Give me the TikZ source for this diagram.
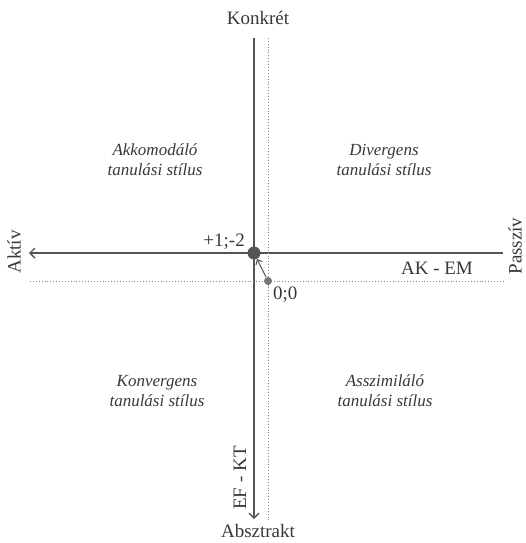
\documentclass[tikz,border=0pt]{standalone}
\usepackage{fontspec}
\setmainfont{Liberation Serif}
\usetikzlibrary{arrows.meta}
\definecolor{axisgray}{gray}{0.33}
\definecolor{textgray}{gray}{0.22}
\tikzstyle{axis} = [draw=axisgray, line width=1.1pt]
\tikzstyle{guide} = [draw=axisgray!70, line width=0.9pt, dotted]
\tikzstyle{arrow} = [-{Straight Barb[length=5pt,width=10pt,line width=1.3pt]}]
\tikzstyle{pole} = [text=textgray, font=\fontsize{19}{21}\selectfont, inner sep=0pt]
\tikzstyle{quad} = [text=textgray, font=\fontsize{17}{20}\selectfont\itshape, align=center, inner sep=0pt]
\tikzstyle{dot} = [circle, fill=axisgray, inner sep=0pt]

\begin{document}
\begin{tikzpicture}[x=1pt, y=-1pt]
\useasboundingbox (0,0) rectangle (526,543);

% poles of the two axes
\node (konkret) [pole] at (258,18) {Konkrét};
\node (absztrakt) [pole] at (258,531) {Absztrakt};
\node (aktiv) [pole, rotate=90] at (14,252) {Aktív};
\node (passziv) [pole, rotate=90] at (515,246) {Passzív};

\coordinate (vtop) at (254,38);
\coordinate (vbot) at (254,519);
\coordinate (hleft) at (29,253);
\coordinate (hright) at (503,253);
\draw [axis, arrow] (vtop) -- (vbot);
\draw [axis, arrow] (hright) -- (hleft);

% zero lines
\coordinate (dtop) at (268,38);
\coordinate (dbot) at (268,520);
\coordinate (dleft) at (30,281);
\coordinate (dright) at (505,281);
\draw [guide] (dtop) -- (dbot);
\draw [guide] (dleft) -- (dright);

\node (akem) [pole] at (437,268) {AK - EM};
\node (efkt) [pole, rotate=90] at (240,478) {EF - KT};

% points
\node (pont) [dot, minimum size=13pt] at (254,253) {};
\node (nulla) [dot, fill=axisgray!80, minimum size=8pt] at (268,281) {};
\node [pole, anchor=east] at (245,242) {+1;-2};
\node [pole, anchor=west] at (273,295) {0;0};
\draw [axisgray, line width=1.1pt, -{Straight Barb[length=4pt,width=7pt,line width=1.1pt]}] (nulla) -- (pont);

% quadrants
\node (akk) [quad] at (155,160) {Akkomodáló\\tanulási stílus};
\node (div) [quad] at (384,160) {Divergens\\tanulási stílus};
\node (konv) [quad] at (157,391) {Konvergens\\tanulási stílus};
\node (asszim) [quad] at (385,391) {Asszimiláló\\tanulási stílus};

\end{tikzpicture}
\end{document}
